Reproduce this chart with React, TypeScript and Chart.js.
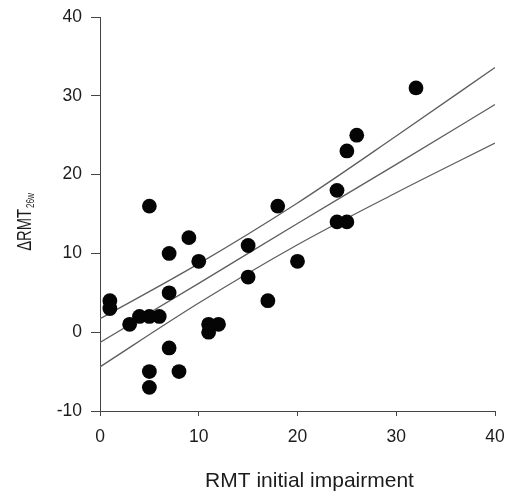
import React, { useEffect, useRef } from 'react';
import { Chart, registerables } from 'chart.js';

Chart.register(...registerables);

// Observed data points (RMT initial impairment vs ΔRMT26w)
const xValues = [32, 26, 25, 24, 18, 24, 25, 5, 9, 7, 10, 15, 20, 15, 17, 7, 1, 1, 3, 4, 5, 6, 11, 12, 11, 7, 5, 8, 5];
const yValues = [31, 25, 23, 18, 16, 14, 14, 16, 12, 10, 9, 11, 9, 7, 4, 5, 4, 3, 1, 2, 2, 2, 1, 1, 0, -2, -5, -5, -7];

// Regression line and confidence band
const lineX = [0, 10, 20, 30, 40];
const fitY = [-1.3, 6.2, 13.8, 21.3, 28.9];
const upperY = [1.7, 8.7, 16.4, 24.9, 33.6];
const lowerY = [-4.4, 3.7, 11.1, 17.7, 24.0];

const xTicks = [0, 10, 20, 30, 40];
const yTicks = [-10, 0, 10, 20, 30, 40];

const xTitle = 'RMT initial impairment';
const yTitleMain = 'ΔRMT';
const yTitleSub = '26w';

const FONT = '"Liberation Sans", Arial, Helvetica, sans-serif';
const TEXT = '#1c1c1c';
const AXIS = '#444444';

const titlePlugin = {
  id: 'axisTitles',
  afterDraw(chart: any) {
    const ctx = chart.ctx as CanvasRenderingContext2D;
    const { left, right, top, bottom } = chart.chartArea;
    ctx.save();
    ctx.fillStyle = TEXT;
    // X title
    ctx.font = `21px ${FONT}`;
    ctx.textAlign = 'center';
    ctx.textBaseline = 'alphabetic';
    ctx.fillText(xTitle, (left + right) / 2 + 12, bottom + 76);
    // Y title (rotated, condensed, with subscript)
    ctx.font = `20px ${FONT}`;
    const mainW = ctx.measureText(yTitleMain).width;
    ctx.font = `11px ${FONT}`;
    const subW = ctx.measureText(yTitleSub).width;
    const sx = 0.74;
    const total = (mainW + subW + 1) * sx;
    ctx.translate(30.7, (top + bottom) / 2 + 8);
    ctx.rotate(-Math.PI / 2);
    ctx.scale(sx, 1);
    const start = -total / 2 / sx;
    ctx.textAlign = 'left';
    ctx.font = `20px ${FONT}`;
    ctx.fillText(yTitleMain, start, 0);
    ctx.font = `11px ${FONT}`;
    ctx.fillText(yTitleSub, start + mainW + 1, 3);
    ctx.restore();
  },
};

export default function App() {
  const ref = useRef<HTMLCanvasElement | null>(null);

  useEffect(() => {
    if (!ref.current) return;
    const pts = xValues.map((x, i) => ({ x, y: yValues[i] }));
    const mk = (ys: number[]) => lineX.map((x, i) => ({ x, y: ys[i] }));
    const lineStyle = {
      type: 'line' as const,
      pointRadius: 0,
      borderColor: '#5e5e5e',
      borderWidth: 1.3,
      fill: false,
      cubicInterpolationMode: 'monotone' as const,
    };
    const chart = new Chart(ref.current, {
      type: 'scatter',
      data: {
        datasets: [
          {
            type: 'scatter',
            data: pts,
            pointRadius: 7.4,
            pointHoverRadius: 7.4,
            backgroundColor: '#050505',
            borderColor: '#050505',
            borderWidth: 0,
          } as any,
          { ...lineStyle, data: mk(upperY) } as any,
          { ...lineStyle, data: mk(fitY) } as any,
          { ...lineStyle, data: mk(lowerY) } as any,
        ],
      },
      options: {
        responsive: false,
        animation: false,
        layout: { padding: { top: 17, right: 11, left: 0, bottom: 0 } },
        plugins: {
          legend: { display: false },
          tooltip: { enabled: false },
        },
        scales: {
          x: {
            type: 'linear',
            position: 'bottom',
            min: 0,
            max: 40,
            afterBuildTicks: (s: any) => {
              s.ticks = xTicks.map((v) => ({ value: v }));
            },
            afterFit: (s: any) => {
              s.height = 83;
              s.paddingLeft = 0;
              s.paddingRight = 0;
            },
            grid: { drawOnChartArea: false, drawTicks: true, tickLength: 5, color: AXIS, lineWidth: 1 },
            border: { display: true, color: AXIS, width: 1 },
            ticks: {
              font: { family: FONT, size: 17.5 },
              color: TEXT,
              padding: 11,
              maxRotation: 0,
              autoSkip: false,
            },
          },
          y: {
            type: 'linear',
            min: -10,
            max: 40,
            afterBuildTicks: (s: any) => {
              s.ticks = yTicks.map((v) => ({ value: v }));
            },
            afterFit: (s: any) => {
              s.width = 100;
              s.paddingTop = 0;
              s.paddingBottom = 0;
            },
            grid: { drawOnChartArea: false, drawTicks: true, tickLength: 9, color: AXIS, lineWidth: 1 },
            border: { display: true, color: AXIS, width: 1 },
            ticks: {
              font: { family: FONT, size: 17.5 },
              color: TEXT,
              padding: 9,
              autoSkip: false,
            },
          },
        },
      },
      plugins: [titlePlugin],
    });
    return () => chart.destroy();
  }, []);

  return (
    <div style={{ position: 'fixed', left: 0, top: 0, width: 506, height: 494, background: '#fff' }}>
      <canvas ref={ref} width={506} height={494} style={{ display: 'block' }} />
    </div>
  );
}
